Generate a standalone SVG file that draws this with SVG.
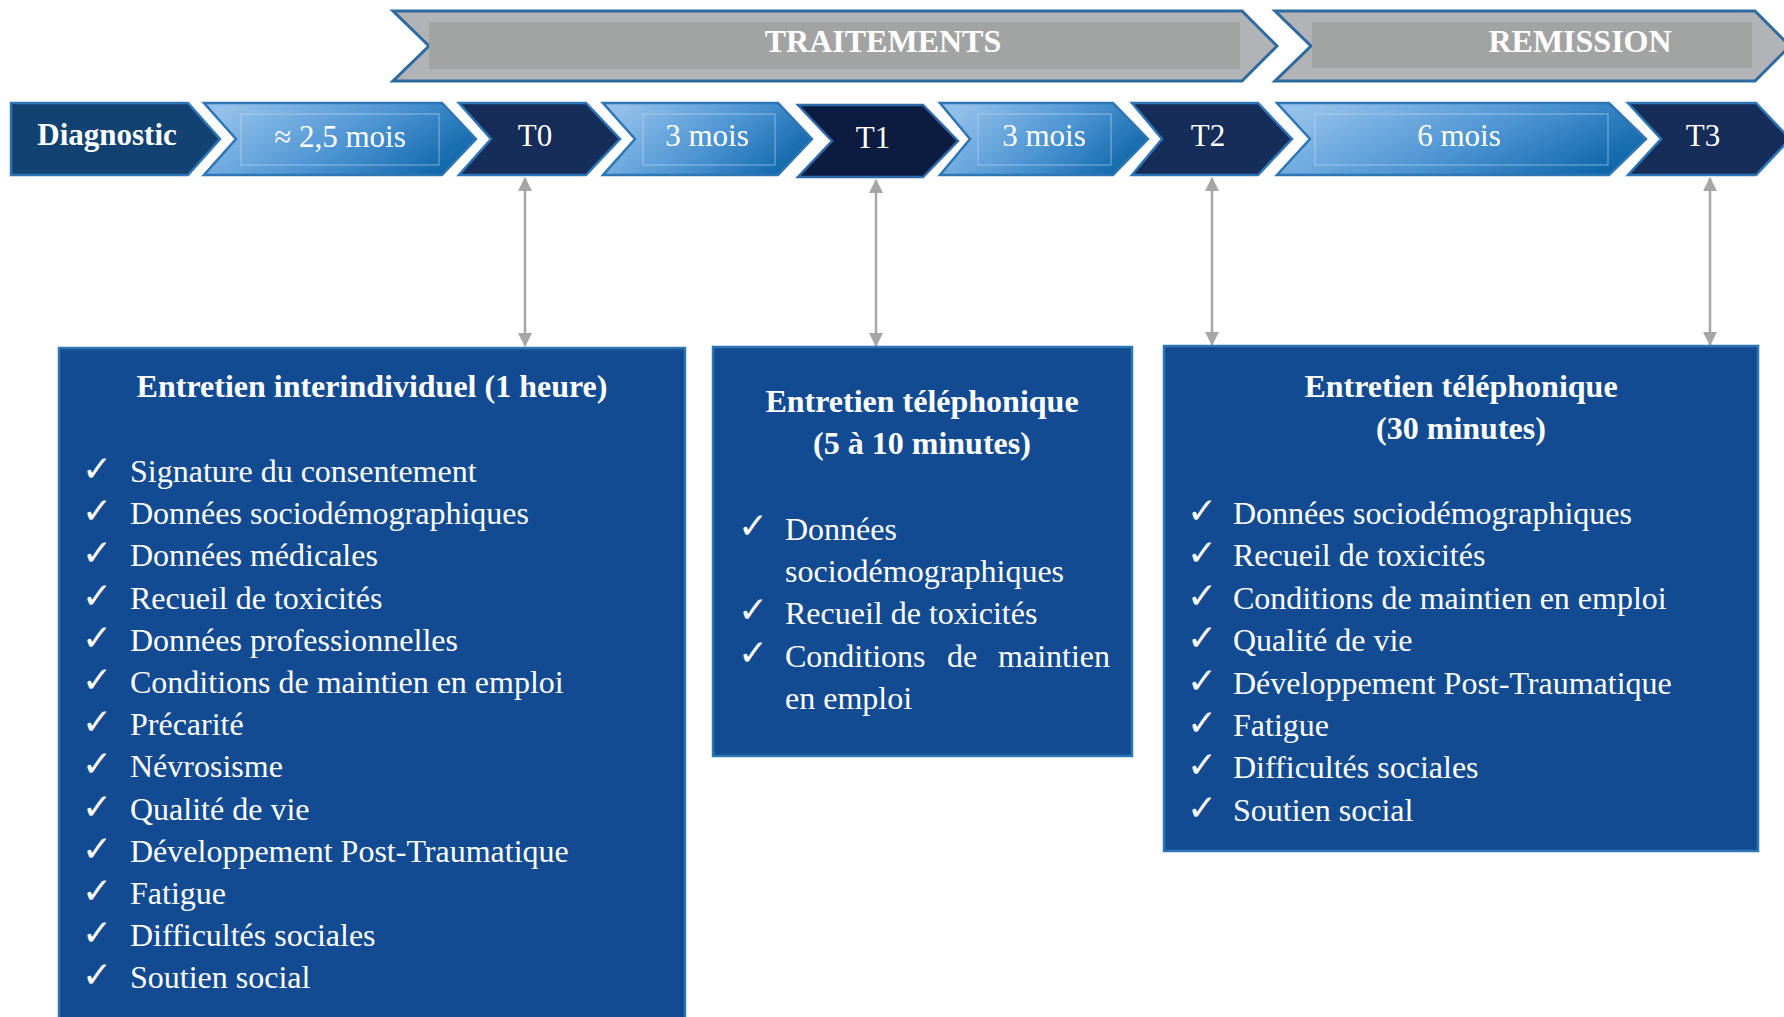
<svg xmlns="http://www.w3.org/2000/svg" width="1784" height="1017" viewBox="0 0 1784 1017">
<style>
.band{fill:#b1b3b6;stroke:#2d6aa0;stroke-width:3}
.bandin{fill:#a2a4a3}
.bt{font-family:"Liberation Serif",serif;font-weight:bold;font-size:32px;fill:#fff;text-anchor:middle}
.dark{fill:#162c59;stroke:#2e75b6;stroke-width:2.5}
.darker{fill:#0c1b40;stroke:#2e6aa8;stroke-width:2.5}
.diag{fill:#124272;stroke:#2e75b6;stroke-width:2.5}
.mois{fill:url(#gm);stroke:#2e75b6;stroke-width:2.5}
.moisin{fill:none;stroke:#c4dcf2;stroke-opacity:0.6;stroke-width:1}
.ct{font-family:"Liberation Serif",serif;font-size:31px;fill:#fff;text-anchor:middle}
.box{fill:#134b93;stroke:#2e75b6;stroke-width:2.5}
.ttl{font-family:"Liberation Serif",serif;font-weight:bold;font-size:32px;fill:#fff;text-anchor:middle}
.it{font-family:"Liberation Serif",serif;font-size:32px;fill:#fff}
.ck{font-family:"DejaVu Sans",sans-serif;font-size:36px;fill:#fff}
.con{stroke:#a6a6a6;stroke-width:2.5;fill:none;marker-start:url(#ah);marker-end:url(#ah)}
</style>
<defs>
<linearGradient id="gm" x1="0" y1="0.3" x2="1" y2="0.7">
<stop offset="0" stop-color="#92c0ea"/>
<stop offset="0.55" stop-color="#4b93d2"/>
<stop offset="1" stop-color="#0d66a9"/>
</linearGradient>
<marker id="ah" markerUnits="userSpaceOnUse" markerWidth="14" markerHeight="14" refX="13" refY="7" orient="auto-start-reverse">
<path d="M0,0 L14,7 L0,14 Z" fill="#a6a6a6"/>
</marker>
</defs>
<rect width="1784" height="1017" fill="#fff"/>

<g id="band-traitements">
<path class="band" d="M393,11 L1242,11 L1277,46 L1242,81 L393,81 L429,46 Z"/>
<rect class="bandin" x="429" y="22" width="811" height="47"/>
<text class="bt" x="883" y="52">TRAITEMENTS</text>
</g>
<g id="band-remission">
<path class="band" d="M1275,11 L1755,11 L1790,46 L1755,81 L1275,81 L1311,46 Z"/>
<rect class="bandin" x="1312" y="22" width="440" height="46"/>
<text class="bt" x="1580" y="52">REMISSION</text>
</g>

<g id="diagnostic">
<path class="diag" d="M11,103 L188,103 L220,139 L188,175 L11,175 Z"/>
<text class="ct" x="107" y="145" font-weight="bold">Diagnostic</text>
</g>
<g id="m25">
<path class="mois" d="M204,103 L442,103 L476,139 L442,175 L204,175 L236,139 Z"/>
<rect class="moisin" x="241" y="114" width="198" height="51"/>
<text class="ct" x="340" y="147" font-size="32">≈ 2,5 mois</text>
</g>
<g id="t0">
<path class="dark" d="M459,103 L586,103 L620,139 L586,175 L459,175 L491,139 Z"/>
<text class="ct" x="535" y="146">T0</text>
</g>
<g id="m3a">
<path class="mois" d="M603,103 L778,103 L812,139 L778,175 L603,175 L635,139 Z"/>
<rect class="moisin" x="643" y="114" width="132" height="51"/>
<text class="ct" x="707" y="146">3 mois</text>
</g>
<g id="t1">
<path class="darker" d="M798,105 L923,105 L958,141 L923,177 L798,177 L832,141 Z"/>
<text class="ct" x="873" y="148">T1</text>
</g>
<g id="m3b">
<path class="mois" d="M940,103 L1113,103 L1148,139 L1113,175 L940,175 L970,139 Z"/>
<rect class="moisin" x="978" y="114" width="133" height="51"/>
<text class="ct" x="1044" y="146">3 mois</text>
</g>
<g id="t2">
<path class="dark" d="M1132,103 L1258,103 L1292,139 L1258,175 L1132,175 L1162,139 Z"/>
<text class="ct" x="1208" y="146">T2</text>
</g>
<g id="m6">
<path class="mois" d="M1277,103 L1609,103 L1646,139 L1609,175 L1277,175 L1310,139 Z"/>
<rect class="moisin" x="1315" y="114" width="293" height="51"/>
<text class="ct" x="1459" y="146">6 mois</text>
</g>
<g id="t3">
<path class="dark" d="M1628,103 L1756,103 L1790,139 L1756,175 L1628,175 L1661,139 Z"/>
<text class="ct" x="1703" y="146">T3</text>
</g>

<g id="connectors">
<line class="con" x1="525" y1="178" x2="525" y2="346"/>
<line class="con" x1="876" y1="180" x2="876" y2="346"/>
<line class="con" x1="1212" y1="178" x2="1212" y2="345"/>
<line class="con" x1="1710" y1="178" x2="1710" y2="345"/>
</g>

<g id="box-t0">
<rect class="box" x="59" y="348" width="626" height="690"/>
<text class="ttl" x="372" y="397">Entretien interindividuel (1 heure)</text>
<g class="ck">
<text x="82" y="481">✓</text><text x="82" y="523">✓</text><text x="82" y="565">✓</text><text x="82" y="608">✓</text><text x="82" y="650">✓</text><text x="82" y="692">✓</text><text x="82" y="734">✓</text><text x="82" y="776">✓</text><text x="82" y="819">✓</text><text x="82" y="861">✓</text><text x="82" y="903">✓</text><text x="82" y="945">✓</text><text x="82" y="987">✓</text>
</g>
<g class="it">
<text x="130" y="482">Signature du consentement</text>
<text x="130" y="524">Données sociodémographiques</text>
<text x="130" y="566">Données médicales</text>
<text x="130" y="609">Recueil de toxicités</text>
<text x="130" y="651">Données professionnelles</text>
<text x="130" y="693">Conditions de maintien en emploi</text>
<text x="130" y="735">Précarité</text>
<text x="130" y="777">Névrosisme</text>
<text x="130" y="820">Qualité de vie</text>
<text x="130" y="862">Développement Post-Traumatique</text>
<text x="130" y="904">Fatigue</text>
<text x="130" y="946">Difficultés sociales</text>
<text x="130" y="988">Soutien social</text>
</g>
</g>

<g id="box-t1">
<rect class="box" x="713" y="347" width="419" height="409"/>
<text class="ttl" x="922" y="412">Entretien téléphonique</text>
<text class="ttl" x="922" y="454">(5 à 10 minutes)</text>
<g class="ck">
<text x="738" y="538">✓</text><text x="738" y="622">✓</text><text x="738" y="665">✓</text>
</g>
<g class="it">
<text x="785" y="540">Données</text>
<text x="785" y="582">sociodémographiques</text>
<text x="785" y="624">Recueil de toxicités</text>
<text x="785" y="667">Conditions</text>
<text x="947" y="667">de</text>
<text x="1110" y="667" text-anchor="end">maintien</text>
<text x="785" y="709">en emploi</text>
</g>
</g>

<g id="box-t2t3">
<rect class="box" x="1164" y="346" width="594" height="505"/>
<text class="ttl" x="1461" y="397">Entretien téléphonique</text>
<text class="ttl" x="1461" y="439">(30 minutes)</text>
<g class="ck">
<text x="1187" y="523">✓</text><text x="1187" y="565">✓</text><text x="1187" y="608">✓</text><text x="1187" y="650">✓</text><text x="1187" y="693">✓</text><text x="1187" y="735">✓</text><text x="1187" y="777">✓</text><text x="1187" y="820">✓</text>
</g>
<g class="it">
<text x="1233" y="524">Données sociodémographiques</text>
<text x="1233" y="566">Recueil de toxicités</text>
<text x="1233" y="609">Conditions de maintien en emploi</text>
<text x="1233" y="651">Qualité de vie</text>
<text x="1233" y="694">Développement Post-Traumatique</text>
<text x="1233" y="736">Fatigue</text>
<text x="1233" y="778">Difficultés sociales</text>
<text x="1233" y="821">Soutien social</text>
</g>
</g>
</svg>
